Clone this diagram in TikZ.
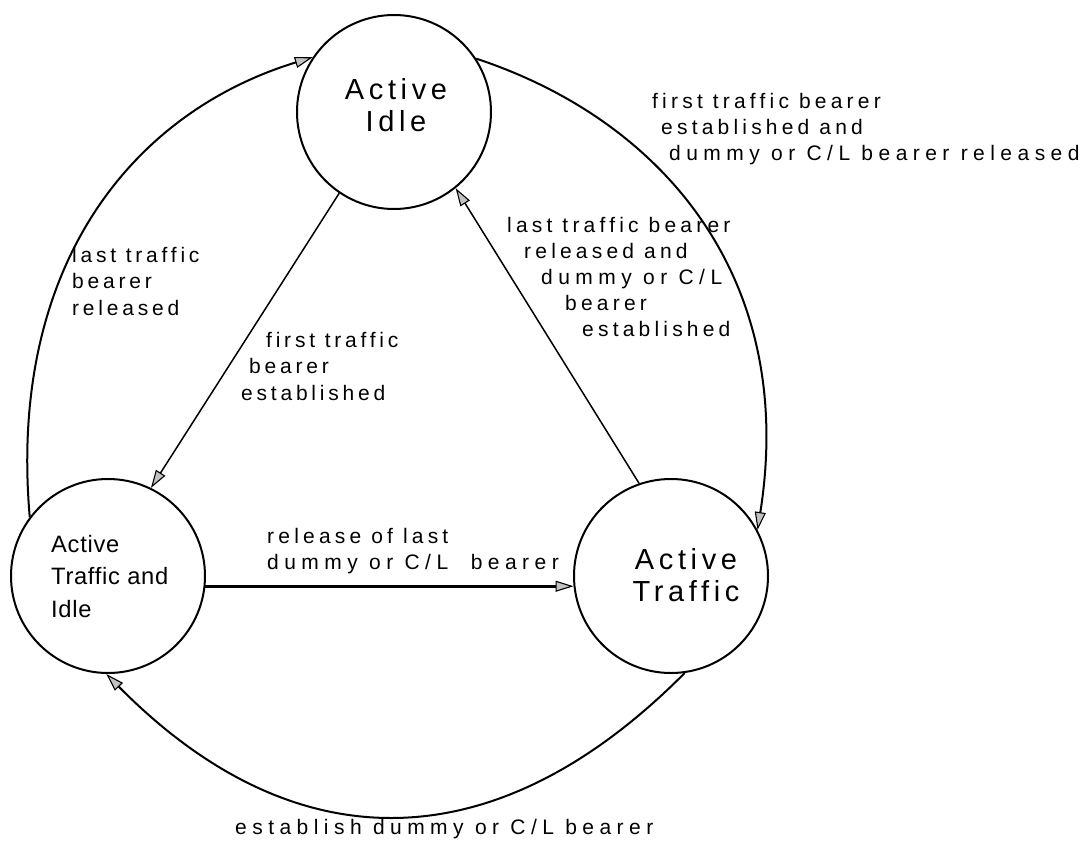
\documentclass[tikz,border=0pt]{standalone}
\usepackage{fontspec}
\setmainfont{Liberation Sans}
\usetikzlibrary{arrows.meta}
\newfontfamily\lblfont[LetterSpace=20]{Liberation Sans}
\newfontfamily\lblnarrowfont[LetterSpace=18]{Liberation Sans}
\newfontfamily\lblwidefont[LetterSpace=26]{Liberation Sans}
\newfontfamily\stfont[LetterSpace=16]{Liberation Sans}
\newfontfamily\stnarrowfont[LetterSpace=3]{Liberation Sans}
\newcommand\mylinesl[1]{\begin{tabular}[t]{@{}l@{}}#1\end{tabular}}
\newcommand\mylinesc[1]{\begin{tabular}[t]{@{}c@{}}#1\end{tabular}}
\tikzset{
  stateshape/.style={draw, circle, minimum size=194pt, inner sep=0pt, line width=2pt},
  arr/.style={-{Triangle[length=18pt,width=11pt,fill=black!24,line width=1.1pt]}},
  curveline/.style={line width=2pt, arr},
  diagline/.style={line width=1.5pt, arr},
  boldline/.style={line width=3pt, arr},
  lbl/.style={anchor=base west, inner sep=0pt, font=\lblfont\fontsize{21}{26.2}\selectfont},
  lblnarrow/.style={anchor=base west, inner sep=0pt, font=\lblnarrowfont\fontsize{21}{26.5}\selectfont},
  bigtext/.style={anchor=base, inner sep=0pt, font=\stfont\fontsize{29}{32.5}\selectfont},
  atitext/.style={anchor=base west, inner sep=0pt, font=\stnarrowfont\fontsize{23.7}{32.5}\selectfont}
}
\begin{document}
\begin{tikzpicture}[x=1pt,y=-1pt]
\fill[white] (0,0) rectangle (1087,846);
\useasboundingbox (0,0) rectangle (1087,846);

% states
\node[stateshape] (idle) at (394,112) {};
\node[stateshape] (ati) at (108,576) {};
\node[stateshape] (at) at (671,576) {};

% state names
\node[bigtext] (idletext) at (396,99) {\mylinesc{Active\\Idle}};
\node[bigtext] (attext) at (686,569) {\mylinesc{Active\\Traffic}};
\node[atitext] (atitext) at (51,552) {\mylinesl{Active\\Traffic and\\Idle}};

% connectors
\draw[curveline] (ati.143.3) .. controls (8,267) and (131,113) .. (idle.146.3);
\draw[curveline] (idle.33.2) .. controls (665,121) and (797,280) .. (at.28.1);
\draw[curveline] (at.-82.5) .. controls (495,864) and (294,864) .. (ati.-91.7);
\draw[diagline] (idle.236.3) -- (ati.64);
\draw[diagline] (at.109.1) -- (idle.-51.8);
\draw[boldline] (ati.-6.6) -- (at.186.6);

% labels
\node[lblnarrow] (lbllastrel) at (72,262) {\mylinesl{last traffic\\bearer\\released}};
\node[lblnarrow] (lblfirstest) at (241,347) {\mylinesl{\hspace*{25pt}first traffic\\\hspace*{8pt}bearer\\established}};
\node[lbl] (lblfirstdummy) at (652,108) {\mylinesl{first traffic bearer\\\hspace*{9pt}established and\\\hspace*{17pt}{\lblwidefont dummy or C/L bearer released}}};
\node[lbl] (lbllastdummy) at (507,232) {\mylinesl{last traffic bearer\\\hspace*{17pt}released and\\\hspace*{34pt}{\lblwidefont dummy or C/L}\\\hspace*{58pt}bearer\\\hspace*{75pt}established}};
\node[lbl] (lblrelease) at (267,543) {\mylinesl{release of last\\{\lblwidefont dummy or C/L~ bearer}}};
\node[lbl, font=\lblwidefont\fontsize{21}{26.2}\selectfont] (lblestablish) at (235,834) {establish dummy or C/L bearer};
\end{tikzpicture}
\end{document}
